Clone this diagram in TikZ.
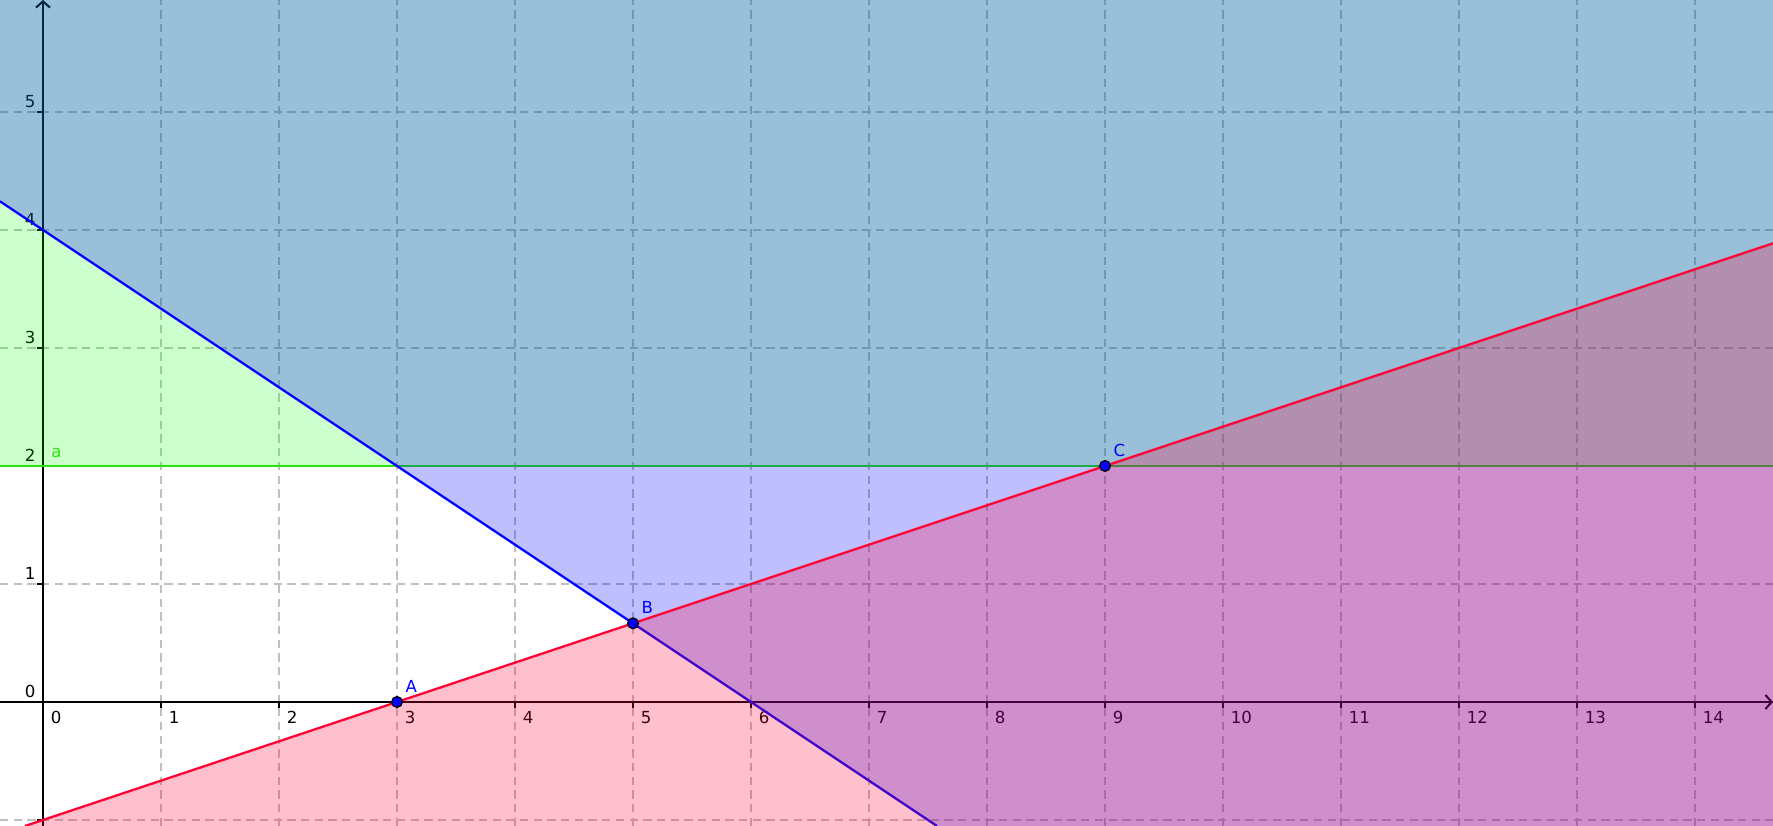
\documentclass[tikz,border=0pt]{standalone}
\usepackage{fontspec}
\setmainfont{DejaVu Sans}
\usetikzlibrary{arrows.meta}
\definecolor{ineqgreen}{RGB}{0,255,0}
\definecolor{linegreen}{RGB}{40,230,10}
\definecolor{ineqblue}{RGB}{0,0,255}
\definecolor{ineqred}{RGB}{255,0,51}
\definecolor{gridgrey}{RGB}{192,192,192}
\newcommand{\smalltext}{\fontsize{4}{5}\selectfont}
\tikzset{
  gridline/.style={gridgrey, line width=0.45pt, dash pattern=on 2pt off 1.3pt},
  axisline/.style={black, line width=0.5pt, -{Straight Barb[length=1.5pt,width=3.4pt]}},
  tickmark/.style={black, line width=0.5pt},
  ticklab/.style={inner sep=0pt, font=\smalltext},
  ptdot/.style={fill=ineqblue, draw=black, line width=0.3pt},
  ptlabel/.style={inner sep=0pt, anchor=south west, text=ineqblue, font=\smalltext},
  boundary/.style={line width=0.55pt}
}
\begin{document}
\begin{tikzpicture}
  \coordinate (SW) at (-0.3644,-1.0508);
  \coordinate (SE) at (14.661,-1.0508);
  \coordinate (NE) at (14.661,5.949);
  \coordinate (NW) at (-0.3644,5.949);
  \useasboundingbox (SW) rectangle (NE);
  % grid
  \foreach \x in {0,...,14}
    \draw[gridline] (\x,-1.0508) -- (\x,5.949);
  \foreach \y in {-1,...,5}
    \draw[gridline] (-0.3644,\y) -- (14.661,\y);
  % axes
  \coordinate (xmin) at (-0.3644,0);
  \coordinate (xmax) at (14.661,0);
  \coordinate (ymin) at (0,-1.0508);
  \coordinate (ymax) at (0,5.949);
  \draw[axisline] (xmin) -- (xmax);
  \draw[axisline] (ymin) -- (ymax);
  \foreach \x in {1,...,14}
    \draw[tickmark] (\x,0) -- (\x,-0.05);
  \foreach \y in {-1,1,2,3,4,5}
    \draw[tickmark] (0,\y) -- (-0.05,\y);
  \foreach \x in {0,...,14}
    \node[ticklab, anchor=north west] (xl\x) at (\x+0.06,-0.072) {\x};
  \foreach \y in {0,...,5}
    \node[ticklab, anchor=south east] (yl\y) at (-0.057,\y+0.027) {\y};
  % a : y >= 2
  \coordinate (aL) at (-0.3644,2);
  \coordinate (aR) at (14.661,2);
  \fill[ineqgreen, fill opacity=0.2] (aL) rectangle (NE);
  \draw[boundary, linegreen] (aL) -- (aR);
  % above the blue line
  \coordinate (blueL) at (-0.3644,4.2429);
  \coordinate (blueB) at (7.5762,-1.0508);
  \fill[ineqblue, fill opacity=0.25] (blueL) -- (blueB) -- (SE) -- (NE) -- (NW) -- cycle;
  \draw[boundary, ineqblue] (blueL) -- (blueB);
  % below the red line
  \coordinate (redB) at (-0.1524,-1.0508);
  \coordinate (redR) at (14.661,3.887);
  \fill[ineqred, fill opacity=0.25] (redB) -- (redR) -- (SE) -- cycle;
  \draw[boundary, ineqred] (redB) -- (redR);
  % points
  \coordinate (A) at (3,0);
  \coordinate (B) at (5,2/3);
  \coordinate (C) at (9,2);
  \foreach \p in {A,B,C}{
    \filldraw[ptdot] (\p) circle (1.3pt);
    \node[ptlabel, xshift=1.85pt, yshift=2.05pt] (lab\p) at (\p) {\p};
  }
  \node[ptlabel, text=linegreen, xshift=1.85pt, yshift=1.7pt] (laba) at (0,2) {a};
\end{tikzpicture}
\end{document}
